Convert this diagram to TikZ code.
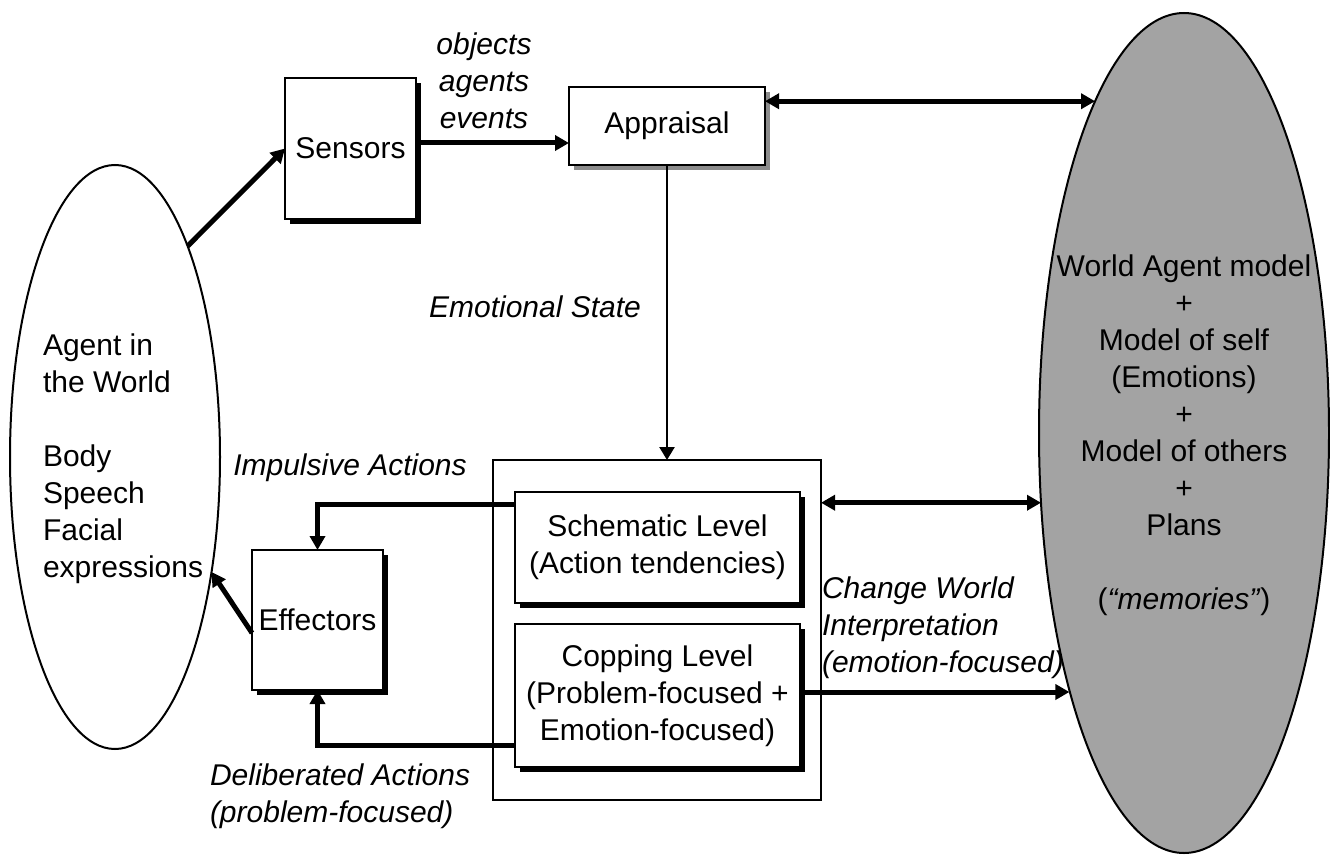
\documentclass[tikz,border=0pt]{standalone}
\usepackage{fontspec}
\setmainfont{Liberation Sans}
\usetikzlibrary{shapes.geometric,arrows.meta,shadows}
\definecolor{memgray}{RGB}{163,163,163}
\begin{document}
\begin{tikzpicture}[x=1pt,y=-1pt,
  every node/.style={font=\fontsize{30}{37}\selectfont, inner sep=0pt, outer sep=0pt},
  box/.style={draw, line width=2pt, fill=white,
    drop shadow={shadow xshift=5pt,shadow yshift=-5pt,fill=black,opacity=1}},
  softbox/.style={draw, line width=2pt, fill=white,
    drop shadow={shadow xshift=5pt,shadow yshift=-5pt,fill=black!45,opacity=1}},
  corebox/.style={draw, line width=2pt},
  lbl/.style={font=\fontsize{30}{37}\selectfont\itshape},
  fatarrow/.style={line width=5pt, -{Triangle[length=14pt,width=15pt]}},
  fatboth/.style={line width=5pt, {Triangle[length=14pt,width=15pt]}-{Triangle[length=14pt,width=15pt]}},
  thinarrow/.style={line width=2.5pt, -{Triangle[length=13pt,width=15pt]}},
]
\useasboundingbox (0,0) rectangle (1330,856);

% the two worlds: the agent and its memory
\node[ellipse, draw, line width=2pt, minimum width=210pt, minimum height=584pt] (agent) at (115,457) {};
\node[ellipse, draw, line width=2pt, fill=memgray, minimum width=290pt, minimum height=840pt] (world) at (1184,433) {};

\node[align=left, anchor=west] (agenttxt) at (43,459)
  {Agent in\\the World\\[37pt]Body\\Speech\\Facial\\expressions};
\node[align=center] (worldtxt) at (1184,435)
  {World Agent model\\+\\Model of self\\(Emotions)\\+\\Model of others\\+\\Plans\\[37pt](\textit{“memories”})};

% processing boxes
\node[box, minimum width=131pt, minimum height=141pt] (sensors) at (350.5,148.5) {Sensors};
\node[softbox, minimum width=196pt, minimum height=78pt] (appraisal) at (667,126) {Appraisal};
\node[corebox, minimum width=328pt, minimum height=340pt] (core) at (657,630) {};
\node[box, minimum width=285pt, minimum height=111pt, align=center] (schematic) at (657.5,547.5)
  {Schematic Level\\(Action tendencies)};
\node[box, minimum width=285pt, minimum height=143pt, align=center] (copping) at (657.5,695.5)
  {Copping Level\\(Problem-focused +\\Emotion-focused)};
\node[box, minimum width=131pt, minimum height=140pt] (effectors) at (317.5,620) {Effectors};

% edge labels
\node[lbl, align=center] (senselbl) at (484,81) {objects\\agents\\events};
\node[lbl] (emolbl) at (535,307) {Emotional State};
\node[lbl] (implbl) at (350,468) {Impulsive Actions};
\node[lbl, align=left, anchor=west] (dellbl) at (210,796) {Deliberated Actions\\(problem-focused)};
\node[lbl, align=left, anchor=west] (chglbl) at (822,628) {Change World\\Interpretation\\(emotion-focused)};

% connectors
\draw[fatarrow] (agent.71.9) -- (sensors.west);
\coordinate (s1) at ([yshift=5.5pt]sensors.east);
\draw[fatarrow] (s1) -- (s1 -| appraisal.west);
\draw[fatboth] (appraisal.east |- world.105.9) -- (world.105.9);
\draw[thinarrow] (appraisal.south) -- (appraisal.south |- core.north);
\coordinate (imp) at ([yshift=-12pt]schematic.north west);
\draw[fatarrow] (imp) -| (effectors.north);
\coordinate (del) at ([yshift=22pt]copping.south west);
\draw[fatarrow] (del) -| (effectors.south);
\coordinate (eff) at ([yshift=-13pt]effectors.west);
\draw[fatarrow] (eff) -- (agent.-50.4);
\draw[fatboth] (core.east |- world.206.6) -- (world.206.6);
\coordinate (chg) at ([yshift=3.5pt]copping.east);
\draw[fatarrow] (chg) -- (chg -| world.246.2);
\end{tikzpicture}
\end{document}
